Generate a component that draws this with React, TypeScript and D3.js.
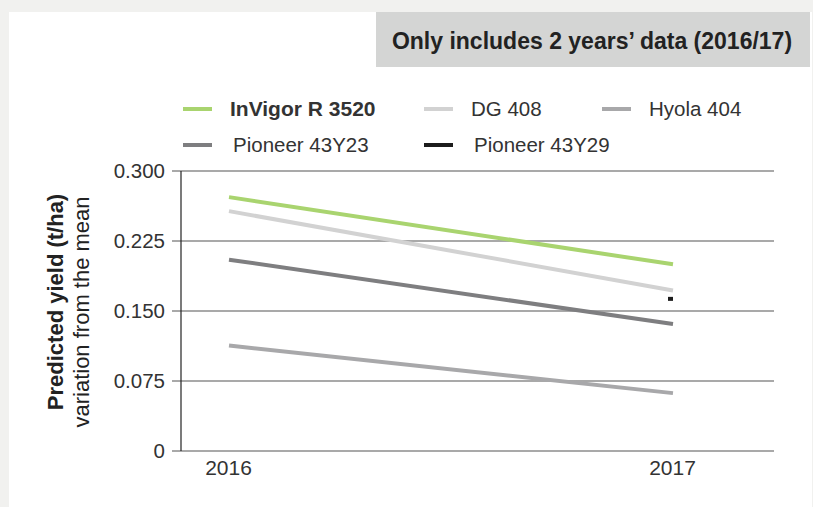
import * as d3 from 'd3'

const years = ['2016', '2017']
const yTicks = [0, 0.075, 0.15, 0.225, 0.3]

const invigor = [0.272, 0.2]
const dg408 = [0.257, 0.172]
const hyola404 = [0.113, 0.062]
const pioneer23 = [0.205, 0.136]
const pioneer29 = [null, 0.163]

const series = [
  { name: 'InVigor R 3520', values: invigor, color: '#a9d46f', bold: true },
  { name: 'DG 408', values: dg408, color: '#d2d2d2', bold: false },
  { name: 'Hyola 404', values: hyola404, color: '#a8a8aa', bold: false },
  { name: 'Pioneer 43Y23', values: pioneer23, color: '#7e7e80', bold: false },
  { name: 'Pioneer 43Y29', values: pioneer29, color: '#1c1c1c', bold: false },
]

const W = 813
const H = 507
const FONT = '"Liberation Sans", Arial, sans-serif'
const TXT = '#333'

export default function App() {
  const x = d3.scalePoint<string>().domain(years).range([229, 673])
  const y = d3.scaleLinear().domain([0, 0.3]).range([451, 171])
  const line = d3
    .line<number | null>()
    .defined((d) => d != null)
    .x((_, i) => x(years[i])!)
    .y((d) => y(d as number))

  const legendPos = [
    [183, 109],
    [424, 109],
    [602, 109],
    [183, 145],
    [424, 145],
  ]

  return (
    <div style={{ position: 'absolute', left: 0, top: 0 }}>
      <svg width={W} height={H} style={{ display: 'block', fontFamily: FONT }}>
        <rect width={W} height={H} fill="#f1f1ef" />
        <rect x={9} y={12} width={803} height={H - 12} fill="#fff" />
        <rect x={376} y={12} width={434} height={55} fill="#d4d5d4" />
        <text x={592} y={49} textAnchor="middle" fontSize={23} fontWeight={700} fill="#222">
          Only includes 2 years’ data (2016/17)
        </text>

        {series.map((s, i) => (
          <g key={s.name} transform={`translate(${legendPos[i][0]},${legendPos[i][1]})`}>
            <line x1={0} x2={29} y1={0} y2={0} stroke={s.color} strokeWidth={4} />
            <text
              x={i === 3 || i === 4 ? 50 : 47}
              y={7}
              fontSize={s.bold ? 21 : 20.5}
              fontWeight={s.bold ? 700 : 400}
              fill={TXT}
            >
              {s.name}
            </text>
          </g>
        ))}

        {yTicks.map((t) => (
          <g key={t}>
            <line x1={172} x2={774} y1={y(t)} y2={y(t)} stroke="#555" strokeWidth={1.2} />
            <text x={165} y={y(t) + 7} textAnchor="end" fontSize={20.5} fill={TXT}>
              {t === 0 ? '0' : d3.format('.3f')(t)}
            </text>
          </g>
        ))}
        <line x1={181} x2={181} y1={y(0.3)} y2={y(0)} stroke="#222" strokeWidth={1.2} />

        {years.map((yr) => (
          <text key={yr} x={x(yr)! - 0.5} y={475} textAnchor="middle" fontSize={21} fill={TXT}>
            {yr}
          </text>
        ))}

        <text
          transform="translate(63,302) rotate(-90)"
          textAnchor="middle"
          fontSize={22}
          fontWeight={700}
          fill="#222"
        >
          Predicted yield (t/ha)
        </text>
        <text transform="translate(89,312) rotate(-90)" textAnchor="middle" fontSize={22} fill="#222">
          variation from the mean
        </text>

        {series.map((s) => {
          const pts = s.values.filter((v) => v != null)
          if (pts.length < 2) {
            const i = s.values.findIndex((v) => v != null)
            const cx = x(years[i])!
            return (
              <line
                key={s.name}
                x1={cx - 5}
                x2={cx}
                y1={y(s.values[i] as number)}
                y2={y(s.values[i] as number)}
                stroke={s.color}
                strokeWidth={4}
              />
            )
          }
          return (
            <path key={s.name} d={line(s.values) ?? ''} fill="none" stroke={s.color} strokeWidth={4} />
          )
        })}
      </svg>
    </div>
  )
}
